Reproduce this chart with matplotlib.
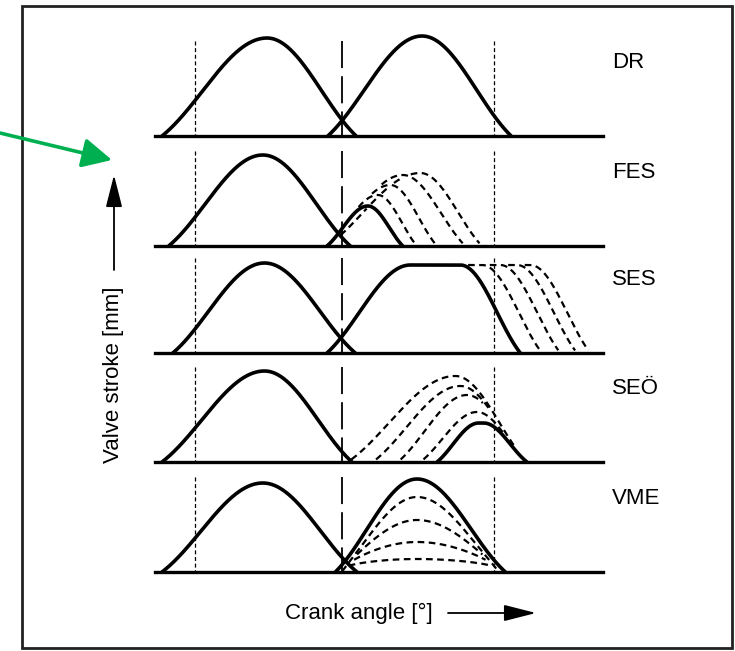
import matplotlib
matplotlib.use("agg")
import numpy as np
import matplotlib.pyplot as plt
from matplotlib.patches import Rectangle, FancyArrowPatch

plt.rcParams['font.family'] = ['Liberation Sans', 'DejaVu Sans']

# rows of the diagram, top to bottom
rows = ["DR", "FES", "SES", "SEÖ", "VME"]
row_base = [0.0, -11.0, -21.7, -32.6, -43.6]   # baseline of each row [mm]

# crank angle range of the baselines and the marker lines [°CA]
angle_min, angle_max = 136, 673
bdc_angles = [184, 542]
tdc_angle = 360
marker_height = 9.5   # [mm]

# exhaust valve (one solid curve per row)
exh_open = [144, 152, 157, 144, 144]
exh_peak = [270, 265, 267, 267, 265]
exh_close = [377, 370, 376, 372, 378]
exh_lift = [9.8, 9.1, 9.0, 9.1, 8.9]

# intake valve, solid curve per row (top_start/top_end = plateau)
in_open = [343, 342, 342, 474, 352]
in_top_start = [456, 391, 442, 524, 450]
in_top_end = [456, 391, 502, 530, 450]
in_close = [563, 433, 574, 582, 556]
in_lift = [10.0, 4.0, 8.8, 3.9, 9.3]

# dashed variants
fes_peak = [403, 418, 433, 454]
fes_close = [450, 474, 508, 528]
fes_lift = [5.1, 6.1, 7.1, 7.3]

ses_top_end = [528, 550, 570, 586]
ses_close = [600, 622, 642, 658]

seo_open = [367, 397, 427, 454]
seo_peak = [496, 502, 510, 522]
seo_lift = [8.6, 7.6, 6.7, 5.0]

vme_lift = [7.5, 5.2, 3.0, 1.3]
vme_fullness = [0.85, 0.7, 0.5, 0.3]


def shape(u):
    return 0.55 * np.sin(np.pi * u / 2) + 0.45 * (1 - np.cos(np.pi * u)) / 2


def lift_profile(x, o, t0, t1, c, lift, k=1.0):
    y = np.full_like(x, np.nan)
    up = (x >= o) & (x < t0)
    y[up] = shape((x[up] - o) / (t0 - o))
    top = (x >= t0) & (x <= t1)
    y[top] = 1.0
    dn = (x > t1) & (x <= c)
    y[dn] = shape((c - x[dn]) / (c - t1))
    return lift * y ** k


x = np.linspace(angle_min, angle_max, 2000)

fig = plt.figure(figsize=(7.35, 6.51), dpi=100)
ax = fig.add_axes([0, 0, 1, 1])
ax.set_xlim(-50.4, 831.6)
ax.set_ylim(-51.5, 13.6)
ax.axis('off')

solid_kw = dict(color='black', lw=2.6, solid_capstyle='round', zorder=3)
dash_kw = dict(color='black', lw=1.6, dashes=(3.0, 2.0), zorder=2)

for i, name in enumerate(rows):
    base = row_base[i]

    # marker lines
    for a in bdc_angles:
        ax.plot([a, a], [base + marker_height, base], color='black', lw=0.9,
                dashes=(3.2, 2.1), zorder=1)
    ax.plot([tdc_angle, tdc_angle], [base + marker_height, base], color='black',
            lw=1.3, dashes=(15, 4.5), zorder=1)

    # exhaust
    y_exh = lift_profile(x, exh_open[i], exh_peak[i], exh_peak[i], exh_close[i], exh_lift[i])
    ax.plot(x, base + y_exh, **solid_kw)

    # intake
    y_in = lift_profile(x, in_open[i], in_top_start[i], in_top_end[i], in_close[i], in_lift[i])
    ax.plot(x, base + y_in, **solid_kw)

    variants = []
    if name == "FES":
        for p, c, l in zip(fes_peak, fes_close, fes_lift):
            variants.append(lift_profile(x, in_open[i], p, p, c, l))
    elif name == "SES":
        for t1, c in zip(ses_top_end, ses_close):
            variants.append(lift_profile(x, in_open[i], in_top_start[i], t1, c, in_lift[i]))
    elif name == "SEÖ":
        for o, p, l in zip(seo_open, seo_peak, seo_lift):
            variants.append(lift_profile(x, o, p, p, in_close[i], l))
    elif name == "VME":
        for l, k in zip(vme_lift, vme_fullness):
            variants.append(lift_profile(x, 360, 450, 450, 548, l, k))

    # dashed variants are only drawn where they leave the curves already drawn
    drawn = [np.nan_to_num(y_in)]
    for y in variants:
        yv = np.nan_to_num(y)
        hide = yv < 0.05
        for other in drawn:
            hide |= np.abs(yv - other) < 0.25
        ax.plot(x, np.where(hide, np.nan, base + yv), **dash_kw)
        drawn.append(yv)

    # baseline
    ax.plot([angle_min, angle_max], [base, base], color='black', lw=2.4, zorder=4)

    ax.text(684, base + 7.3, name, ha='left', va='center', fontsize=16)

# frame
fig.patches.append(Rectangle((22 / 735, 1 - 648 / 651), 710 / 735, 642 / 651,
                             transform=fig.transFigure, fill=False,
                             edgecolor='#222222', lw=2.0))

# axis captions with arrows
fig.text(113 / 735, 1 - 375 / 651, "Valve stroke [mm]", rotation=90,
         ha='center', va='center', fontsize=16)
fig.patches.append(FancyArrowPatch((114 / 735, 1 - 270 / 651), (114 / 735, 1 - 175 / 651),
                                   transform=fig.transFigure, color='black', lw=1.3,
                                   arrowstyle='-|>,head_length=1.1,head_width=0.28',
                                   mutation_scale=18, shrinkA=0, shrinkB=0))
fig.text(285 / 735, 1 - 613 / 651, "Crank angle [°]", ha='left', va='center', fontsize=16)
fig.patches.append(FancyArrowPatch((448 / 735, 1 - 613 / 651), (536 / 735, 1 - 613 / 651),
                                   transform=fig.transFigure, color='black', lw=1.3,
                                   arrowstyle='-|>,head_length=1.1,head_width=0.28',
                                   mutation_scale=18, shrinkA=0, shrinkB=0))

# green pointer
fig.patches.append(FancyArrowPatch((0, 1 - 133 / 651), (112 / 735, 1 - 160 / 651),
                                   transform=fig.transFigure, color='#00B050', lw=2.6,
                                   arrowstyle='-|>,head_length=1.0,head_width=0.5',
                                   mutation_scale=18, shrinkA=0, shrinkB=0))

fig.savefig('out.png', dpi=100)
